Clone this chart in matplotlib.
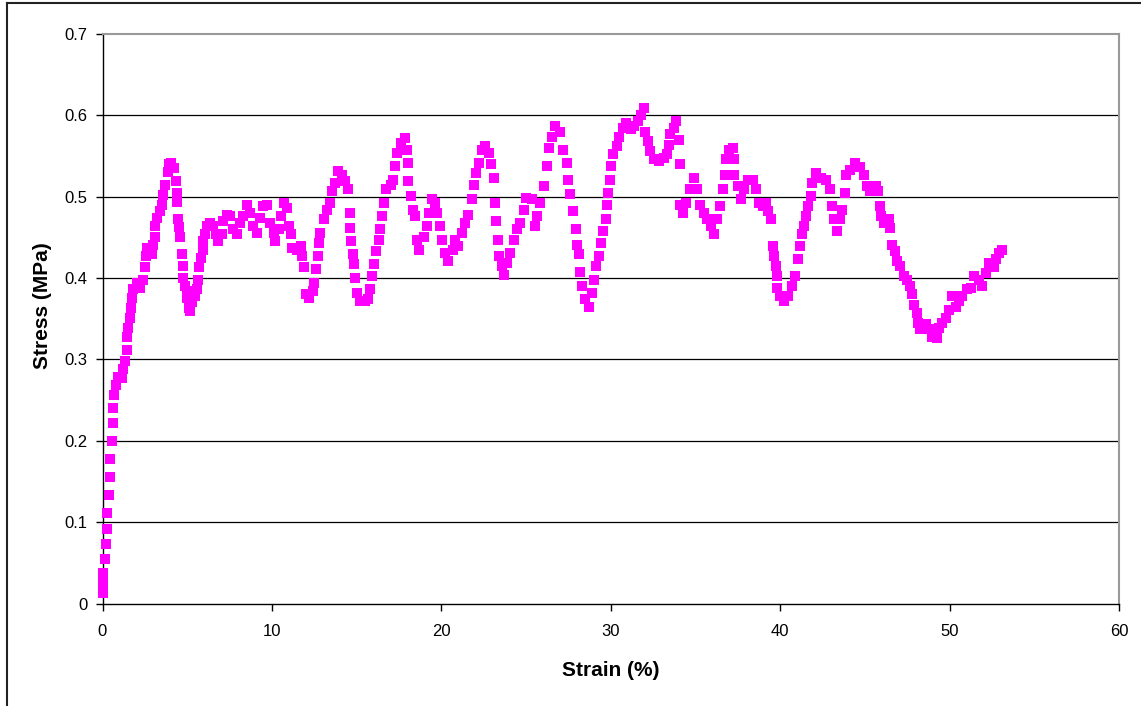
import matplotlib
matplotlib.use("Agg")
import matplotlib.pyplot as plt
from matplotlib.lines import Line2D

# Strain (%) values
strain = [
    0.0, 0.05, 0.05, 0.15, 0.2, 0.28, 0.28, 0.38, 0.46, 0.46, 0.54, 0.62, 0.62,
    0.7, 0.8, 0.93, 1.13, 1.23, 1.33, 1.43, 1.47, 1.53, 1.62, 1.66, 1.72, 1.82,
    2.02, 2.21, 2.37, 2.5, 2.56, 2.64, 2.9, 3.0, 3.1, 3.1, 3.2, 3.4, 3.5, 3.6,
    3.7, 3.85, 3.95, 4.05, 4.2, 4.35, 4.38, 4.42, 4.48, 4.5, 4.58, 4.68, 4.74,
    4.77, 4.87, 5.0, 4.97, 5.13, 5.17, 5.27, 5.46, 5.6, 5.66, 5.72, 5.8, 5.92,
    5.95, 6.05, 6.19, 6.35, 6.55, 6.7, 6.84, 7.04, 7.14, 7.33, 7.53, 7.73, 7.92,
    8.12, 8.32, 8.52, 8.7, 8.9, 9.1, 9.3, 9.5, 9.7, 9.9, 10.1, 10.2, 10.4,
    10.53, 10.7, 10.9, 11.0, 11.1, 11.2, 11.5, 11.7, 11.8, 11.9, 12.0, 12.2,
    12.4, 12.5, 12.6, 12.7, 12.75, 12.85, 13.05, 13.25, 13.45, 13.55, 13.73,
    13.93, 14.13, 14.32, 14.52, 14.58, 14.58, 14.66, 14.78, 14.86, 14.92, 15.0,
    15.2, 15.5, 15.7, 15.76, 15.9, 16.0, 16.15, 16.3, 16.4, 16.5, 16.63, 16.75,
    17.0, 17.17, 17.27, 17.4, 17.6, 17.86, 18.0, 18.06, 18.06, 18.2, 18.32,
    18.46, 18.56, 18.66, 18.95, 19.15, 19.25, 19.45, 19.6, 19.74, 19.9, 20.05,
    20.2, 20.4, 20.7, 20.8, 21.0, 21.2, 21.4, 21.6, 21.8, 21.9, 22.05, 22.2,
    22.4, 22.6, 22.8, 22.93, 23.08, 23.19, 23.25, 23.32, 23.38, 23.58, 23.67,
    23.87, 24.07, 24.26, 24.46, 24.66, 24.85, 25.0, 25.35, 25.5, 25.65, 25.85,
    26.04, 26.24, 26.34, 26.54, 26.73, 27.03, 27.2, 27.4, 27.5, 27.6, 27.8,
    27.97, 28.0, 28.1, 28.2, 28.3, 28.5, 28.7, 28.9, 29.0, 29.15, 29.3, 29.4,
    29.55, 29.7, 29.75, 29.83, 29.95, 30.0, 30.15, 30.35, 30.5, 30.7, 30.9,
    31.2, 31.4, 31.6, 31.76, 31.95, 32.05, 32.2, 32.3, 32.54, 32.83, 33.13,
    33.33, 33.42, 33.52, 33.72, 33.88, 34.0, 34.07, 34.1, 34.27, 34.47, 34.7,
    34.9, 35.1, 35.26, 35.5, 35.7, 35.9, 36.1, 36.3, 36.45, 36.6, 36.73, 36.8,
    37.0, 37.2, 37.3, 37.3, 37.5, 37.7, 37.85, 38.1, 38.4, 38.6, 38.78, 38.97,
    39.17, 39.3, 39.46, 39.56, 39.65, 39.75, 39.8, 39.84, 40.0, 40.2, 40.45,
    40.7, 40.9, 41.04, 41.16, 41.3, 41.43, 41.55, 41.63, 41.8, 41.9, 42.1, 42.4,
    42.68, 42.94, 43.07, 43.2, 43.37, 43.56, 43.66, 43.8, 43.9, 44.15, 44.44,
    44.74, 44.94, 45.14, 45.33, 45.63, 45.8, 45.9, 45.93, 46.13, 46.4, 46.5,
    46.6, 46.8, 46.9, 47.1, 47.28, 47.5, 47.66, 47.8, 47.9, 48.05, 48.13, 48.25,
    48.58, 48.78, 48.98, 49.27, 49.37, 49.57, 49.76, 49.96, 50.16, 50.35, 50.55,
    50.75, 51.05, 51.24, 51.44, 51.73, 51.93, 52.13, 52.32, 52.62, 52.72, 52.9,
    53.1,
]

# Stress (MPa) values
stress = [
    0.013, 0.025, 0.038, 0.055, 0.073, 0.092, 0.111, 0.133, 0.156, 0.178, 0.200,
    0.222, 0.240, 0.256, 0.268, 0.279, 0.277, 0.288, 0.298, 0.312, 0.327, 0.339,
    0.351, 0.363, 0.376, 0.386, 0.394, 0.388, 0.398, 0.413, 0.427, 0.437, 0.429,
    0.441, 0.451, 0.464, 0.474, 0.482, 0.490, 0.502, 0.515, 0.530, 0.540, 0.541,
    0.535, 0.519, 0.505, 0.493, 0.473, 0.463, 0.450, 0.429, 0.415, 0.400, 0.390,
    0.384, 0.376, 0.363, 0.359, 0.370, 0.378, 0.386, 0.398, 0.413, 0.425, 0.435,
    0.445, 0.454, 0.464, 0.468, 0.464, 0.454, 0.445, 0.454, 0.470, 0.478, 0.476,
    0.460, 0.454, 0.468, 0.476, 0.490, 0.480, 0.464, 0.456, 0.474, 0.488, 0.490,
    0.468, 0.456, 0.445, 0.460, 0.476, 0.492, 0.486, 0.464, 0.454, 0.437, 0.435,
    0.439, 0.427, 0.413, 0.380, 0.376, 0.384, 0.394, 0.411, 0.427, 0.443, 0.456,
    0.472, 0.484, 0.492, 0.507, 0.517, 0.531, 0.527, 0.519, 0.509, 0.480, 0.462,
    0.445, 0.429, 0.417, 0.400, 0.382, 0.372, 0.372, 0.374, 0.386, 0.402, 0.417,
    0.433, 0.447, 0.460, 0.476, 0.492, 0.509, 0.515, 0.521, 0.538, 0.554, 0.566,
    0.572, 0.558, 0.542, 0.519, 0.501, 0.484, 0.476, 0.447, 0.435, 0.451, 0.464,
    0.480, 0.497, 0.492, 0.480, 0.464, 0.447, 0.431, 0.421, 0.435, 0.447, 0.439,
    0.456, 0.468, 0.478, 0.497, 0.515, 0.529, 0.542, 0.558, 0.562, 0.554, 0.540,
    0.523, 0.492, 0.470, 0.447, 0.427, 0.415, 0.404, 0.419, 0.431, 0.447, 0.460,
    0.468, 0.484, 0.499, 0.497, 0.464, 0.476, 0.492, 0.513, 0.538, 0.560, 0.574,
    0.587, 0.579, 0.558, 0.542, 0.521, 0.503, 0.482, 0.460, 0.441, 0.429, 0.408,
    0.390, 0.374, 0.365, 0.382, 0.398, 0.415, 0.427, 0.443, 0.458, 0.472, 0.490,
    0.505, 0.521, 0.538, 0.552, 0.562, 0.573, 0.585, 0.591, 0.583, 0.587, 0.593,
    0.601, 0.609, 0.579, 0.568, 0.556, 0.546, 0.544, 0.548, 0.552, 0.564, 0.577,
    0.585, 0.593, 0.570, 0.540, 0.490, 0.480, 0.492, 0.509, 0.523, 0.509, 0.490,
    0.480, 0.472, 0.464, 0.454, 0.472, 0.488, 0.509, 0.527, 0.546, 0.558, 0.560,
    0.546, 0.527, 0.513, 0.497, 0.509, 0.521, 0.521, 0.509, 0.492, 0.488, 0.492,
    0.482, 0.472, 0.439, 0.427, 0.415, 0.402, 0.388, 0.378, 0.372, 0.378, 0.390,
    0.402, 0.423, 0.439, 0.454, 0.464, 0.476, 0.488, 0.501, 0.517, 0.529, 0.523,
    0.521, 0.509, 0.488, 0.472, 0.458, 0.472, 0.484, 0.505, 0.527, 0.533, 0.542,
    0.536, 0.527, 0.513, 0.507, 0.513, 0.507, 0.488, 0.476, 0.468, 0.472, 0.462,
    0.441, 0.433, 0.421, 0.415, 0.402, 0.398, 0.390, 0.380, 0.367, 0.357, 0.345,
    0.337, 0.344, 0.337, 0.328, 0.326, 0.339, 0.345, 0.351, 0.361, 0.378, 0.365,
    0.372, 0.378, 0.386, 0.388, 0.402, 0.398, 0.390, 0.406, 0.419, 0.413, 0.423,
    0.431, 0.435,
]

x_ticks = [0, 10, 20, 30, 40, 50, 60]
y_ticks = [0, 0.1, 0.2, 0.3, 0.4, 0.5, 0.6, 0.7]
y_tick_labels = ["0", "0.1", "0.2", "0.3", "0.4", "0.5", "0.6", "0.7"]

plt.rcParams['font.family'] = ['Liberation Sans', 'DejaVu Sans']

W, H = 1141, 706
fig = plt.figure(figsize=(W / 100, H / 100), dpi=100)
fig.patch.set_facecolor('white')

left, right, top, bottom = 102.5, 1119, 34, 603.5
ax = fig.add_axes([left / W, 1 - bottom / H, (right - left) / W, (bottom - top) / H])

ax.set_xlim(0, 60)
ax.set_ylim(0, 0.7)

ax.plot(strain, stress, linestyle='none', marker='s', markersize=7.0,
        markerfacecolor='#FF00FF', markeredgecolor='#FF00FF', markeredgewidth=0,
        zorder=3, clip_on=False)

ax.set_xticks(x_ticks)
ax.set_xticklabels([str(v) for v in x_ticks])
ax.set_yticks(y_ticks)
ax.set_yticklabels(y_tick_labels)

for yv in y_ticks[1:-1]:
    ax.axhline(yv, color='#000000', linewidth=0.9, zorder=1)

ax.spines['left'].set_color('#000000')
ax.spines['bottom'].set_color('#000000')
ax.spines['left'].set_linewidth(1.0)
ax.spines['bottom'].set_linewidth(1.0)
ax.spines['top'].set_color('#999999')
ax.spines['right'].set_color('#999999')
ax.spines['top'].set_linewidth(1.5)
ax.spines['right'].set_linewidth(1.5)

ax.tick_params(axis='both', direction='out', length=5, width=1.0, color='#000000',
               labelsize=12, labelcolor='#000000')
ax.tick_params(axis='x', pad=10)
ax.tick_params(axis='y', pad=6)

fig.text(611 / W, 1 - 670 / H, "Strain (%)", ha='center', va='center',
         fontsize=15, fontweight='bold')
fig.text(42 / W, 1 - 306 / H, "Stress (MPa)", ha='center', va='center',
         fontsize=15, fontweight='bold', rotation=90)

# outer chart border (left and top visible)
fig.add_artist(Line2D([7 / W, 7 / W], [0, 1 - 3 / H], transform=fig.transFigure,
                      color='#222222', linewidth=1.5))
fig.add_artist(Line2D([7 / W, 1], [1 - 3 / H, 1 - 3 / H], transform=fig.transFigure,
                      color='#222222', linewidth=1.5))

fig.savefig("out.png", dpi=100, facecolor='white')
